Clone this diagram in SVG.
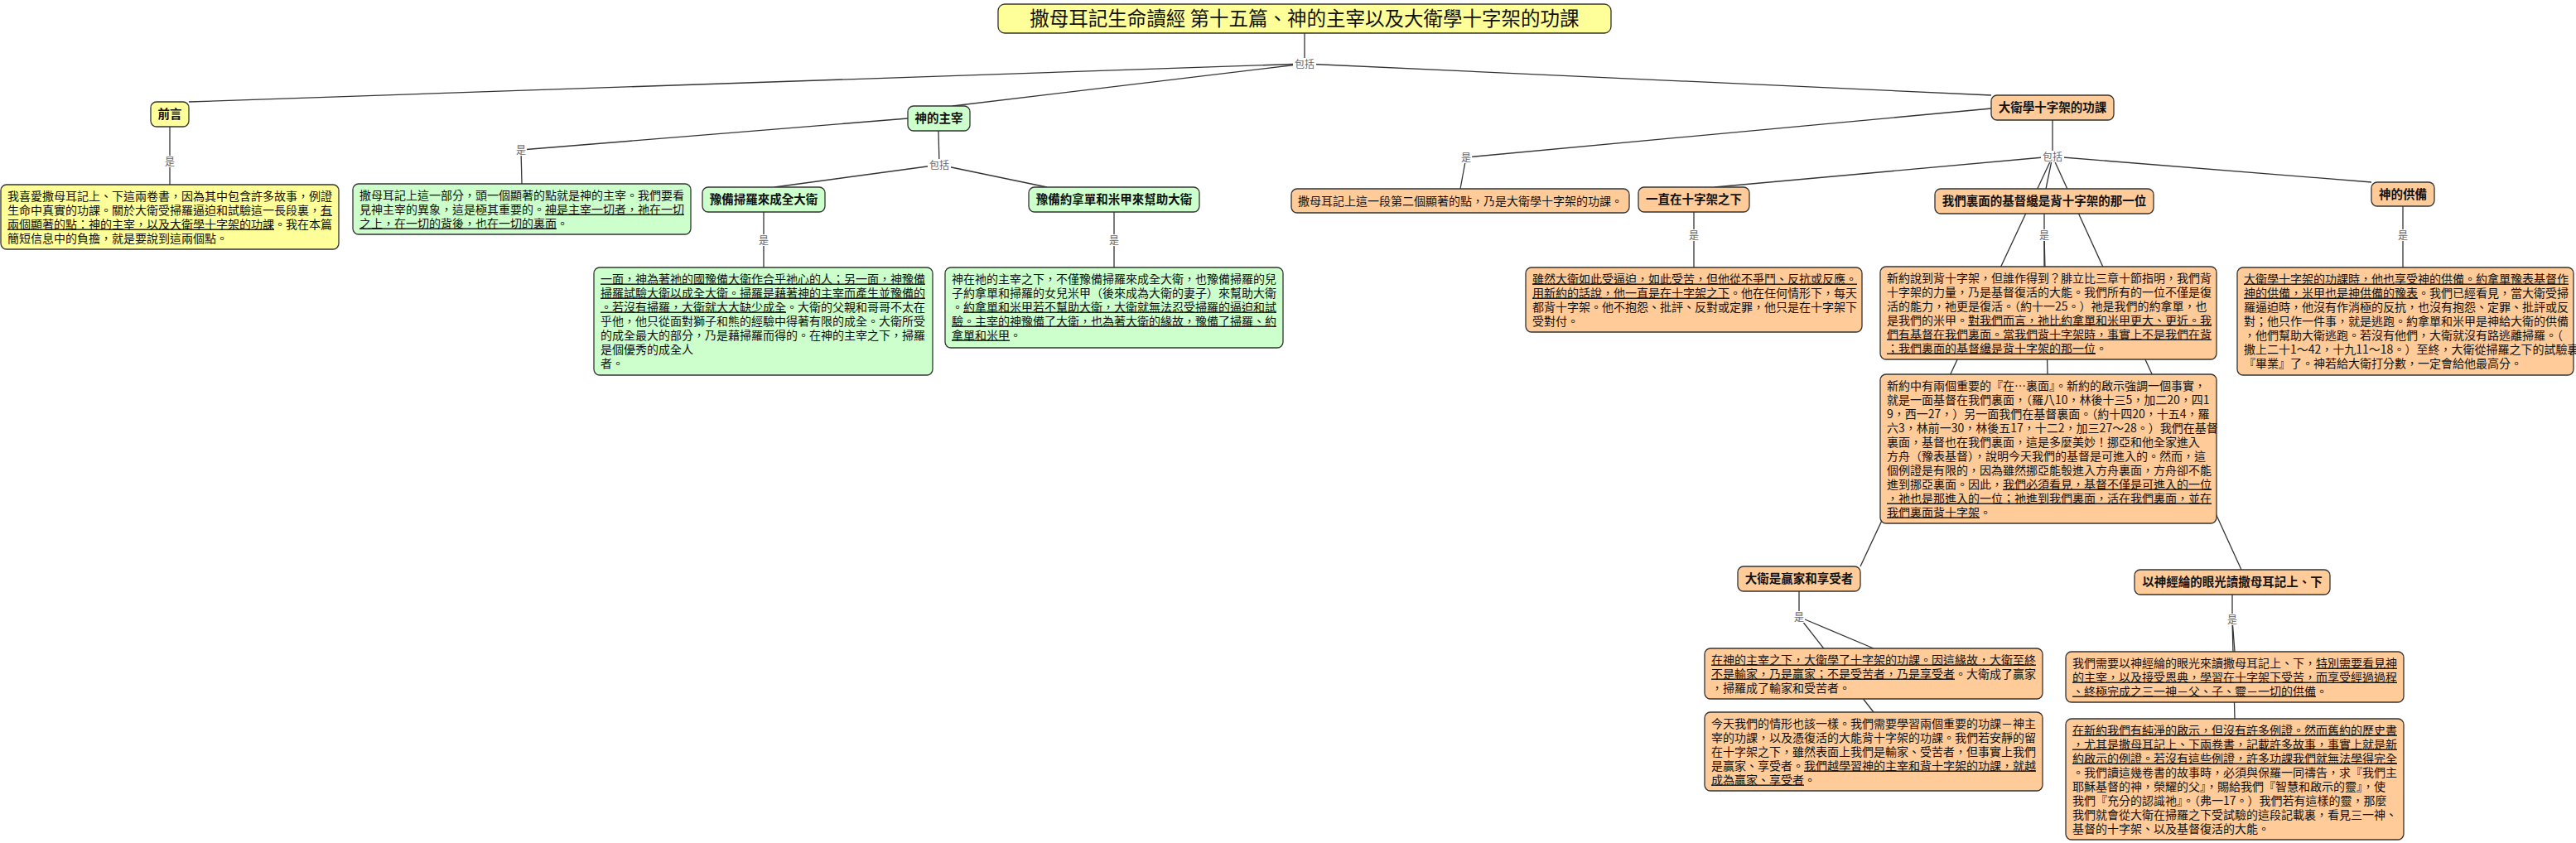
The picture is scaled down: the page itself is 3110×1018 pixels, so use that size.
<svg xmlns="http://www.w3.org/2000/svg" width="3110" height="1018" viewBox="0 0 3110 1018">
<style>
.t{font-family:"Noto Sans CJK TC","Noto Sans CJK SC",sans-serif;font-size:14px;fill:#111}
.c{font-family:"Noto Sans CJK TC","Noto Sans CJK SC",sans-serif;font-size:14.5px;font-weight:bold;fill:#111;text-anchor:middle}
.ttl{font-family:"Noto Sans CJK TC","Noto Sans CJK SC",sans-serif;font-size:23.5px;fill:#111;text-anchor:middle}
.lbl{font-family:"Noto Sans CJK TC","Noto Sans CJK SC",sans-serif;font-size:12px;fill:#666;text-anchor:middle}
.u{text-decoration:underline}
.y{fill:#ffff99;stroke:#333;stroke-width:1.3}
.g{fill:#ccffcc;stroke:#333;stroke-width:1.3}
.o{fill:#ffcc99;stroke:#333;stroke-width:1.3}
.lb{fill:#fff}
</style>
<rect width="3110" height="1018" fill="#fff"/>
<g id="connectors" stroke="#333" stroke-width="1.3" fill="none">
<line x1="1575" y1="40" x2="1575" y2="77"/>
<line x1="1575" y1="77" x2="228" y2="123"/>
<line x1="1575" y1="77" x2="1150" y2="128"/>
<line x1="1575" y1="77" x2="2404" y2="115"/>
<line x1="205" y1="153" x2="205" y2="223"/>
<line x1="1096" y1="143" x2="629" y2="181"/>
<line x1="629" y1="181" x2="630" y2="222"/>
<line x1="1133" y1="158" x2="1134" y2="199"/>
<line x1="1134" y1="199" x2="935" y2="226"/>
<line x1="1134" y1="199" x2="1264" y2="226"/>
<line x1="922" y1="256" x2="922" y2="323"/>
<line x1="1345" y1="256" x2="1345" y2="323"/>
<line x1="2404" y1="131" x2="1770" y2="190"/>
<line x1="1770" y1="190" x2="1763" y2="228"/>
<line x1="2478" y1="145" x2="2478" y2="189"/>
<line x1="2478" y1="189" x2="2070" y2="226"/>
<line x1="2478" y1="189" x2="2470" y2="228"/>
<line x1="2478" y1="189" x2="2863" y2="220"/>
<line x1="2045" y1="256" x2="2045" y2="323"/>
<line x1="2468" y1="258" x2="2468" y2="322"/>
<line x1="2468" y1="284" x2="2472" y2="452"/>
<line x1="2478" y1="189" x2="2246" y2="684"/>
<line x1="2478" y1="189" x2="2706" y2="688"/>
<line x1="2901" y1="249" x2="2901" y2="323"/>
<line x1="2172" y1="714" x2="2172" y2="745"/>
<line x1="2172" y1="745" x2="2262" y2="783"/>
<line x1="2172" y1="745" x2="2262" y2="860"/>
<line x1="2695" y1="718" x2="2695" y2="748"/>
<line x1="2695" y1="748" x2="2698" y2="787"/>
<line x1="2695" y1="748" x2="2698" y2="868"/>
</g>
<g id="link-labels">
<rect class="lb" x="1561" y="70" width="28" height="14"/><text class="lbl" x="1575" y="81.5">包括</text>
<rect class="lb" x="198" y="188" width="14" height="14"/><text class="lbl" x="205" y="199.5">是</text>
<rect class="lb" x="622" y="174" width="14" height="14"/><text class="lbl" x="629" y="185.5">是</text>
<rect class="lb" x="1120" y="192" width="28" height="14"/><text class="lbl" x="1134" y="203.5">包括</text>
<rect class="lb" x="915" y="283" width="14" height="14"/><text class="lbl" x="922" y="294.5">是</text>
<rect class="lb" x="1338" y="283" width="14" height="14"/><text class="lbl" x="1345" y="294.5">是</text>
<rect class="lb" x="1763" y="183" width="14" height="14"/><text class="lbl" x="1770" y="194.5">是</text>
<rect class="lb" x="2464" y="182" width="28" height="14"/><text class="lbl" x="2478" y="193.5">包括</text>
<rect class="lb" x="2038" y="277" width="14" height="14"/><text class="lbl" x="2045" y="288.5">是</text>
<rect class="lb" x="2461" y="277" width="14" height="14"/><text class="lbl" x="2468" y="288.5">是</text>
<rect class="lb" x="2894" y="277" width="14" height="14"/><text class="lbl" x="2901" y="288.5">是</text>
<rect class="lb" x="2165" y="738" width="14" height="14"/><text class="lbl" x="2172" y="749.5">是</text>
<rect class="lb" x="2688" y="741" width="14" height="14"/><text class="lbl" x="2695" y="752.5">是</text>
</g>
<g id="title"><rect class="y" x="1205" y="5" width="740" height="35" rx="8"/><text class="ttl" x="1575" y="31">撒母耳記生命讀經 第十五篇、神的主宰以及大衛學十字架的功課</text></g>
<g id="n-qianyan"><rect class="y" x="182" y="123" width="46" height="30" rx="7"/><text class="c" x="205" y="143">前言</text></g>
<g id="t-qianyan"><rect class="y" x="1" y="223" width="408" height="78" rx="7"/>
<text class="t"><tspan x="9" y="241.5">我喜愛撒母耳記上、下這兩卷書，因為其中包含許多故事，例證</tspan><tspan x="9" y="258.5">生命中真實的功課。關於大衛受掃羅逼迫和試驗這一長段裏，<tspan class="u">有</tspan></tspan><tspan x="9" y="275.5"><tspan class="u">兩個顯著的點：神的主宰，以及大衛學十字架的功課</tspan>。我在本篇</tspan><tspan x="9" y="292.5">簡短信息中的負擔，就是要說到這兩個點。</tspan></text></g>
<g id="n-zhuzai"><rect class="g" x="1096" y="128" width="75" height="30" rx="7"/><text class="c" x="1133.5" y="148">神的主宰</text></g>
<g id="t-zhuzai"><rect class="g" x="426" y="222" width="408" height="61" rx="7"/>
<text class="t"><tspan x="434" y="240.5">撒母耳記上這一部分，頭一個顯著的點就是神的主宰。我們要看</tspan><tspan x="434" y="257.5">見神主宰的異象，這是極其重要的。<tspan class="u">神是主宰一切者，祂在一切</tspan></tspan><tspan x="434" y="274.5"><tspan class="u">之上，在一切的背後，也在一切的裏面</tspan>。</tspan></text></g>
<g id="n-saoluo"><rect class="g" x="848" y="226" width="148" height="30" rx="7"/><text class="c" x="922" y="246">豫備掃羅來成全大衛</text></g>
<g id="t-saoluo"><rect class="g" x="717" y="323" width="409" height="130" rx="7"/>
<text class="t"><tspan x="725" y="341.5" class="u">一面，神為著祂的國豫備大衛作合乎祂心的人；另一面，神豫備</tspan><tspan x="725" y="358.5" class="u">掃羅試驗大衛以成全大衛。掃羅是藉著神的主宰而產生並豫備的</tspan><tspan x="725" y="375.5"><tspan class="u">。若沒有掃羅，大衛就大大缺少成全</tspan>。大衛的父親和哥哥不太在</tspan><tspan x="725" y="392.5">乎他，他只從面對獅子和熊的經驗中得著有限的成全。大衛所受</tspan><tspan x="725" y="409.5">的成全最大的部分，乃是藉掃羅而得的。在神的主宰之下，掃羅</tspan><tspan x="725" y="426.5">是個優秀的成全人</tspan><tspan x="725" y="443.5">者。</tspan></text></g>
<g id="n-yuenadan"><rect class="g" x="1242" y="226" width="206" height="30" rx="7"/><text class="c" x="1345" y="246">豫備約拿單和米甲來幫助大衛</text></g>
<g id="t-yuenadan"><rect class="g" x="1141" y="323" width="408" height="97" rx="7"/>
<text class="t"><tspan x="1149" y="341.5">神在祂的主宰之下，不僅豫備掃羅來成全大衛，也豫備掃羅的兒</tspan><tspan x="1149" y="358.5">子約拿單和掃羅的女兒米甲（後來成為大衛的妻子）來幫助大衛</tspan><tspan x="1149" y="375.5">。<tspan class="u">約拿單和米甲若不幫助大衛，大衛就無法忍受掃羅的逼迫和試</tspan></tspan><tspan x="1149" y="392.5" class="u">驗。主宰的神豫備了大衛，也為著大衛的緣故，豫備了掃羅、約</tspan><tspan x="1149" y="409.5"><tspan class="u">拿單和米甲</tspan>。</tspan></text></g>
<g id="n-shizijia"><rect class="o" x="2404" y="115" width="148" height="30" rx="7"/><text class="c" x="2478" y="135">大衛學十字架的功課</text></g>
<g id="t-shizijia"><rect class="o" x="1559" y="228" width="408" height="29" rx="7"/>
<text class="t" x="1567" y="247.5">撒母耳記上這一段第二個顯著的點，乃是大衛學十字架的功課。</text></g>
<g id="n-yizhi"><rect class="o" x="1978" y="226" width="134" height="30" rx="7"/><text class="c" x="2045" y="246">一直在十字架之下</text></g>
<g id="t-yizhi"><rect class="o" x="1842" y="323" width="406" height="78" rx="7"/>
<text class="t"><tspan x="1850" y="341.5" class="u">雖然大衛如此受逼迫，如此受苦，但他從不爭鬥、反抗或反應。</tspan><tspan x="1850" y="358.5"><tspan class="u">用新約的話說，他一直是在十字架之下</tspan>。他在任何情形下，每天</tspan><tspan x="1850" y="375.5">都背十字架。他不抱怨、批評、反對或定罪，他只是在十字架下</tspan><tspan x="1850" y="392.5">受對付。</tspan></text></g>
<g id="n-limian"><rect class="o" x="2336" y="228" width="264" height="30" rx="7"/><text class="c" x="2468" y="248">我們裏面的基督纔是背十字架的那一位</text></g>
<g id="t-limian1"><rect class="o" x="2270" y="322" width="406" height="112" rx="7"/>
<text class="t"><tspan x="2278" y="340.5">新約說到背十字架，但誰作得到？腓立比三章十節指明，我們背</tspan><tspan x="2278" y="357.5">十字架的力量，乃是基督復活的大能。我們所有的一位不僅是復</tspan><tspan x="2278" y="374.5">活的能力，祂更是復活。（約十一25。）祂是我們的約拿單，也</tspan><tspan x="2278" y="391.5">是我們的米甲。<tspan class="u">對我們而言，祂比約拿單和米甲更大、更近。我</tspan></tspan><tspan x="2278" y="408.5" class="u">們有基督在我們裏面。當我們背十字架時，事實上不是我們在背</tspan><tspan x="2278" y="425.5"><tspan class="u">；我們裏面的基督纔是背十字架的那一位</tspan>。</tspan></text></g>
<g id="t-limian2"><rect class="o" x="2270" y="452" width="406" height="180" rx="7"/>
<text class="t"><tspan x="2278" y="470.5">新約中有兩個重要的『在…裏面』。新約的啟示強調一個事實，</tspan><tspan x="2278" y="487.5">就是一面基督在我們裏面，（羅八10，林後十三5，加二20，四1</tspan><tspan x="2278" y="504.5">9，西一27，）另一面我們在基督裏面。（約十四20，十五4，羅</tspan><tspan x="2278" y="521.5">六3，林前一30，林後五17，十二2，加三27～28。）我們在基督</tspan><tspan x="2278" y="538.5">裏面，基督也在我們裏面，這是多麼美妙！挪亞和他全家進入</tspan><tspan x="2278" y="555.5">方舟（豫表基督），說明今天我們的基督是可進入的。然而，這</tspan><tspan x="2278" y="572.5">個例證是有限的，因為雖然挪亞能彀進入方舟裏面，方舟卻不能</tspan><tspan x="2278" y="589.5">進到挪亞裏面。因此，<tspan class="u">我們必須看見，基督不僅是可進入的一位</tspan></tspan><tspan x="2278" y="606.5" class="u">，祂也是那進入的一位；祂進到我們裏面，活在我們裏面，並在</tspan><tspan x="2278" y="623.5"><tspan class="u">我們裏面背十字架</tspan>。</tspan></text></g>
<g id="n-gongbei"><rect class="o" x="2863" y="220" width="76" height="29" rx="7"/><text class="c" x="2901" y="239.5">神的供備</text></g>
<g id="t-gongbei"><rect class="o" x="2701" y="323" width="406" height="130" rx="7"/>
<text class="t"><tspan x="2709" y="341.5" class="u">大衛學十字架的功課時，他也享受神的供備。約拿單豫表基督作</tspan><tspan x="2709" y="358.5"><tspan class="u">神的供備，米甲也是神供備的豫表</tspan>。我們已經看見，當大衛受掃</tspan><tspan x="2709" y="375.5">羅逼迫時，他沒有作消極的反抗，也沒有抱怨、定罪、批評或反</tspan><tspan x="2709" y="392.5">對；他只作一件事，就是逃跑。約拿單和米甲是神給大衛的供備</tspan><tspan x="2709" y="409.5">，他們幫助大衛逃跑。若沒有他們，大衛就沒有路逃離掃羅。（</tspan><tspan x="2709" y="426.5">撒上二十1～42，十九11～18。）至終，大衛從掃羅之下的試驗裏</tspan><tspan x="2709" y="443.5">『畢業』了。神若給大衛打分數，一定會給他最高分。</tspan></text></g>
<g id="n-yingjia"><rect class="o" x="2098" y="684" width="148" height="30" rx="7"/><text class="c" x="2172" y="704">大衛是贏家和享受者</text></g>
<g id="t-yingjia1"><rect class="o" x="2058" y="783" width="408" height="61" rx="7"/>
<text class="t"><tspan x="2066" y="801.5" class="u">在神的主宰之下，大衛學了十字架的功課。因這緣故，大衛至終</tspan><tspan x="2066" y="818.5"><tspan class="u">不是輸家，乃是贏家；不是受苦者，乃是享受者</tspan>。大衛成了贏家</tspan><tspan x="2066" y="835.5">，掃羅成了輸家和受苦者。</tspan></text></g>
<g id="t-yingjia2"><rect class="o" x="2058" y="860" width="408" height="95" rx="7"/>
<text class="t"><tspan x="2066" y="878.5">今天我們的情形也該一樣。我們需要學習兩個重要的功課－神主</tspan><tspan x="2066" y="895.5">宰的功課，以及憑復活的大能背十字架的功課。我們若安靜的留</tspan><tspan x="2066" y="912.5">在十字架之下，雖然表面上我們是輸家、受苦者，但事實上我們</tspan><tspan x="2066" y="929.5">是贏家、享受者。<tspan class="u">我們越學習神的主宰和背十字架的功課，就越</tspan></tspan><tspan x="2066" y="946.5"><tspan class="u">成為贏家、享受者</tspan>。</tspan></text></g>
<g id="n-jinglun"><rect class="o" x="2577" y="688" width="236" height="30" rx="7"/><text class="c" x="2695" y="708">以神經綸的眼光讀撒母耳記上、下</text></g>
<g id="t-jinglun1"><rect class="o" x="2494" y="787" width="408" height="61" rx="7"/>
<text class="t"><tspan x="2502" y="805.5">我們需要以神經綸的眼光來讀撒母耳記上、下，<tspan class="u">特別需要看見神</tspan></tspan><tspan x="2502" y="822.5" class="u">的主宰，以及接受恩典，學習在十字架下受苦，而享受經過過程</tspan><tspan x="2502" y="839.5"><tspan class="u">、終極完成之三一神－父、子、靈－一切的供備</tspan>。</tspan></text></g>
<g id="t-jinglun2"><rect class="o" x="2494" y="868" width="408" height="146" rx="7"/>
<text class="t"><tspan x="2502" y="886.5" class="u">在新約我們有純淨的啟示，但沒有許多例證。然而舊約的歷史書</tspan><tspan x="2502" y="903.5" class="u">，尤其是撒母耳記上、下兩卷書，記載許多故事，事實上就是新</tspan><tspan x="2502" y="920.5" class="u">約啟示的例證。若沒有這些例證，許多功課我們就無法學得完全</tspan><tspan x="2502" y="937.5">。我們讀這幾卷書的故事時，必須與保羅一同禱告，求『我們主</tspan><tspan x="2502" y="954.5">耶穌基督的神，榮耀的父』，賜給我們『智慧和啟示的靈』，使</tspan><tspan x="2502" y="971.5">我們『充分的認識祂』。（弗一17。）我們若有這樣的靈，那麼</tspan><tspan x="2502" y="988.5">我們就會從大衛在掃羅之下受試驗的這段記載裏，看見三一神、</tspan><tspan x="2502" y="1005.5">基督的十字架、以及基督復活的大能。</tspan></text></g>
</svg>
